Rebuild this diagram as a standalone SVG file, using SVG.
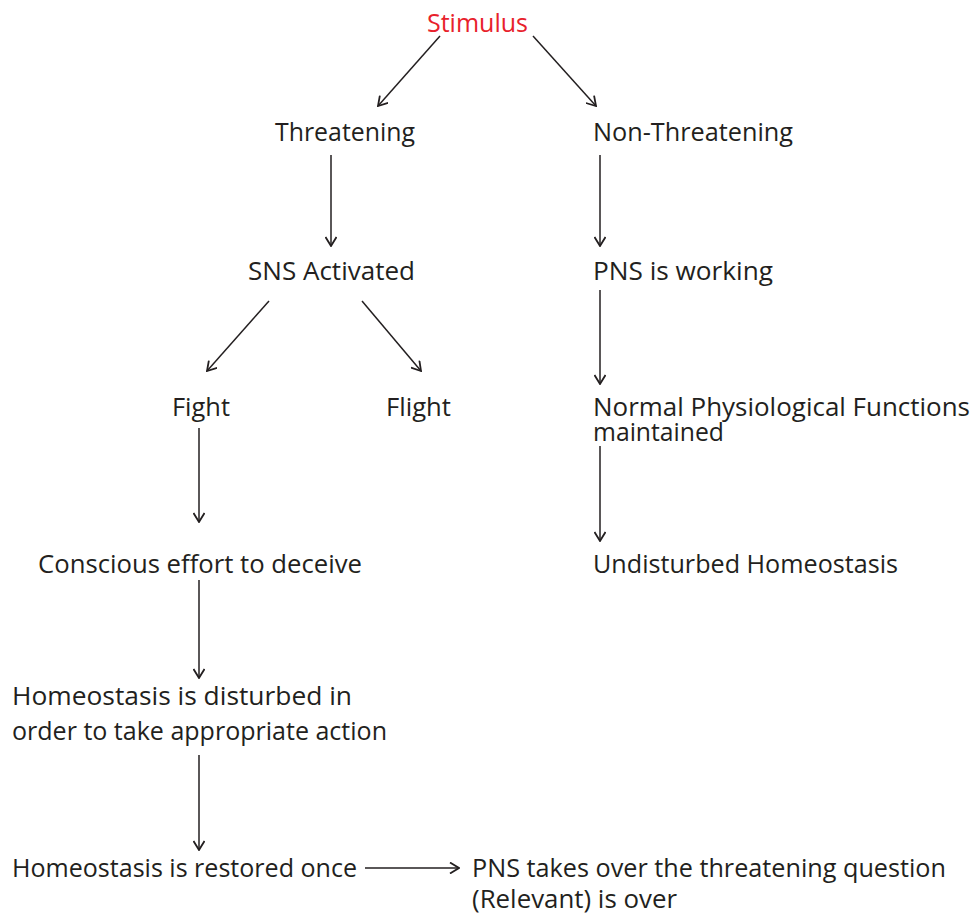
<svg xmlns="http://www.w3.org/2000/svg" width="975" height="913" viewBox="0 0 975 913">
<defs>
<style>
text{font-family:"Open Sans","Noto Sans","DejaVu Sans",sans-serif;font-size:26px;fill:#231f20}
.red{fill:#e8212b}
.c line{stroke:#231f20;stroke-width:1.5;fill:none;marker-end:url(#ah)}
</style>
<marker id="ah" viewBox="0 0 12 12" refX="11" refY="6" markerWidth="12" markerHeight="12" orient="auto" markerUnits="userSpaceOnUse">
<path d="M2,0.5 L11,6 L2,11.5" fill="none" stroke="#231f20" stroke-width="1.8"/>
</marker>
</defs>
<rect width="975" height="913" fill="#fff"/>
<g id="stimulus"><text class="red" x="427" y="32" textLength="101" lengthAdjust="spacingAndGlyphs">Stimulus</text></g>
<g id="threatening"><text x="275" y="141" textLength="140" lengthAdjust="spacingAndGlyphs">Threatening</text></g>
<g id="nonthreatening"><text x="593" y="141" textLength="200" lengthAdjust="spacingAndGlyphs">Non-Threatening</text></g>
<g id="sns"><text x="248" y="280" textLength="167" lengthAdjust="spacingAndGlyphs">SNS Activated</text></g>
<g id="pns"><text x="593" y="280" textLength="180" lengthAdjust="spacingAndGlyphs">PNS is working</text></g>
<g id="fight"><text x="172" y="416" textLength="58" lengthAdjust="spacingAndGlyphs">Fight</text></g>
<g id="flight"><text x="386" y="416" textLength="65" lengthAdjust="spacingAndGlyphs">Flight</text></g>
<g id="normal"><text x="593" y="416" textLength="377" lengthAdjust="spacingAndGlyphs">Normal Physiological Functions</text><text x="593" y="441" textLength="131" lengthAdjust="spacingAndGlyphs">maintained</text></g>
<g id="conscious"><text x="38" y="573" textLength="324" lengthAdjust="spacingAndGlyphs">Conscious effort to deceive</text></g>
<g id="undisturbed"><text x="593" y="573" textLength="305" lengthAdjust="spacingAndGlyphs">Undisturbed Homeostasis</text></g>
<g id="disturbed"><text x="12" y="705" textLength="340" lengthAdjust="spacingAndGlyphs">Homeostasis is disturbed in</text><text x="12" y="740" textLength="375" lengthAdjust="spacingAndGlyphs">order to take appropriate action</text></g>
<g id="restored"><text x="12" y="877" textLength="345" lengthAdjust="spacingAndGlyphs">Homeostasis is restored once</text></g>
<g id="pnstakes"><text x="472" y="877" textLength="474" lengthAdjust="spacingAndGlyphs">PNS takes over the threatening question</text><text x="472" y="908" textLength="205" lengthAdjust="spacingAndGlyphs">(Relevant) is over</text></g>
<g id="connectors" class="c">
<line x1="440" y1="36" x2="378" y2="106"/>
<line x1="533" y1="36" x2="596" y2="106"/>
<line x1="331" y1="155" x2="331" y2="246"/>
<line x1="600" y1="155" x2="600" y2="246"/>
<line x1="269" y1="301" x2="207" y2="371"/>
<line x1="362" y1="301" x2="421" y2="371"/>
<line x1="600" y1="290" x2="600" y2="384"/>
<line x1="199" y1="428" x2="199" y2="522"/>
<line x1="600" y1="446" x2="600" y2="541"/>
<line x1="199" y1="580" x2="199" y2="678"/>
<line x1="199" y1="755" x2="199" y2="850"/>
<line x1="365" y1="868" x2="459" y2="868"/>
</g>
</svg>
